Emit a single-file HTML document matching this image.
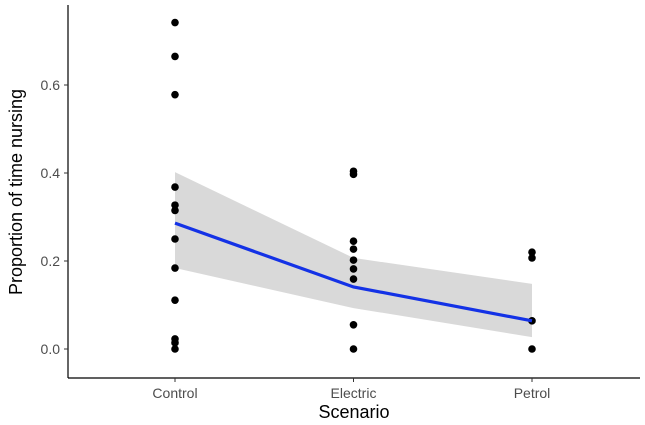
<!DOCTYPE html>
<html><head><meta charset="utf-8"><style>
body{margin:0;background:#fff;font-family:"Liberation Sans",sans-serif}
</style></head><body>
<svg id="chart" width="645" height="420">
<g id="g"></g>
</svg>
<script>
const categories=["Control","Electric","Petrol"];
const pointsControl=[0.742,0.665,0.578,0.368,0.327,0.315,0.25,0.184,0.111,0.023,0.014,0.0];
const pointsElectric=[0.404,0.397,0.245,0.227,0.202,0.182,0.159,0.055,0.0];
const pointsPetrol=[0.22,0.207,0.064,0.0];
const fitMean=[0.286,0.141,0.064];
const fitLower=[0.184,0.093,0.027];
const fitUpper=[0.402,0.207,0.148];
const yTicks=[0,0.2,0.4,0.6];
const NS="http://www.w3.org/2000/svg";
const g=document.getElementById('g');
const x=i=>175+i*178.5;
const y=v=>349-v*440;
function el(t,a){const e=document.createElementNS(NS,t);for(const k in a)e.setAttribute(k,a[k]);g.appendChild(e);return e;}
let band=el('path',{d:'M'+fitUpper.map((v,i)=>x(i)+','+y(v)).join('L')+'L'+fitLower.map((v,i)=>x(i)+','+y(v)).reverse().join('L')+'Z',fill:'#d9d9d9'});


[pointsControl,pointsElectric,pointsPetrol].forEach((arr,i)=>arr.forEach(v=>{
 const c=el('circle',{cx:x(i),cy:y(v),r:3.8,fill:'#000'});
 
 
}));
let line=el('polyline',{points:fitMean.map((v,i)=>x(i)+','+y(v)).join(' '),fill:'none',stroke:'#1432e6','stroke-width':3.2});


let ya=el('line',{x1:68,y1:5,x2:68,y2:378,stroke:'#000','stroke-width':1.2});


let xa=el('line',{x1:68,y1:378,x2:640,y2:378,stroke:'#000','stroke-width':1.2});


yTicks.forEach(v=>{
 el('line',{x1:64,x2:68,y1:y(v),y2:y(v),stroke:'#333'});
 const t=el('text',{x:60,y:y(v)+5,'text-anchor':'end','font-size':14,fill:'#4d4d4d'});
 t.textContent=v.toFixed(1);
 
 
});
categories.forEach((c,i)=>{
 el('line',{x1:x(i),x2:x(i),y1:378,y2:382,stroke:'#333'});
 const t=el('text',{x:x(i),y:398,'text-anchor':'middle','font-size':14,fill:'#4d4d4d'});
 t.textContent=c;
 
 
});
let xt=el('text',{x:354,y:418,'text-anchor':'middle','font-size':18,fill:'#000'});
xt.textContent='Scenario';


let yt=el('text',{x:0,y:0,'text-anchor':'middle','font-size':18,fill:'#000',transform:'translate(22,192) rotate(-90)'});
yt.textContent='Proportion of time nursing';


</script>
</body></html>
